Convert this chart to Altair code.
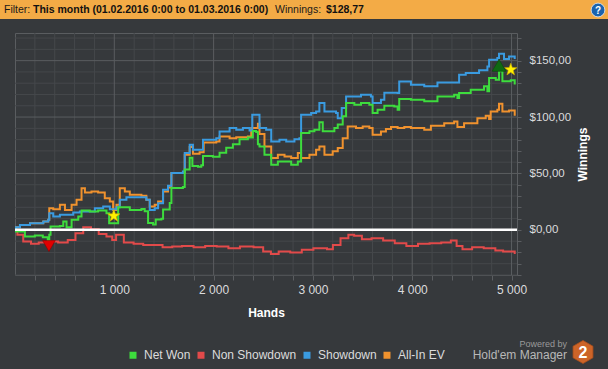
import altair as alt
import pandas as pd

FONT = "Liberation Sans"
BG = "#36393c"
MINOR = "#45484b"
MAJOR = "#5a5d60"
HEADER = "#f3ab46"

SERIES = ["Net Won", "Non Showdown", "Showdown", "All-In EV"]
COLORS = ["#3ddc3d", "#e24a4a", "#3a9be0", "#f0922e"]

net_hands = [0, 10, 100, 200, 280, 330, 345, 358, 452, 486, 519, 570, 637, 670, 754, 837, 921, 948,
             1039, 1156, 1273, 1306, 1340, 1390, 1417, 1474, 1491, 1558, 1575, 1691, 1709, 1759, 1786,
             1843, 1876, 1893, 1993, 2060, 2127, 2194, 2261, 2345, 2395, 2429, 2446, 2462, 2512, 2580,
             2647, 2714, 2781, 2848, 2881, 2965, 3015, 3065, 3099, 3216, 3250, 3300, 3334, 3417, 3484,
             3568, 3601, 3651, 3719, 3819, 3853, 3869, 3987, 4121, 4254, 4422, 4455, 4472, 4589, 4723,
             4757, 4774, 4841, 4874, 4908, 4992, 5032]
net_vals = [0, -1.5, -5.9, -5.0, -6.5, -9.0, -4.4, 2.9, 3.5, 7.4, 2.4, 8.9, 11.8, 17.2, 16.3, 17.2, 14.8, 5.9,
            20.0, 17.7, 18.6, 16.6, 6.2, 4.7, 9.2, 9.8, 18.0, 23.9, 37.2, 38.1, 53.6, 64.0, 56.6,
            56.0, 57.2, 65.5, 64.9, 68.4, 72.9, 75.8, 80.3, 81.8, 87.7, 86.8, 75.8, 74.0, 66.6, 57.7,
            60.7, 60.7, 57.7, 60.7, 85.9, 87.4, 88.7, 95.3, 87.4, 90.3, 93.3, 100.6, 112.4, 111.0, 112.4,
            111.0, 103.5, 106.5, 110.0, 109.4, 106.5, 116.0, 115.3, 113.9, 118.3, 119.8, 116.8, 121.3, 124.2, 127.2,
            122.8, 134.6, 133.1, 140.5, 131.7, 132.6, 128.8]

nsd_hands = [0, 24, 83, 161, 239, 336, 434, 531, 609, 687, 765, 843, 921, 979, 1018, 1096, 1194, 1291,
             1389, 1486, 1583, 1681, 1798, 1915, 2031, 2149, 2265, 2402, 2499, 2577, 2655, 2772, 2888,
             3005, 3142, 3201, 3278, 3357, 3415, 3493, 3590, 3707, 3824, 3941, 4058, 4175, 4292, 4389,
             4447, 4506, 4603, 4720, 4837, 4915, 5032]
nsd_vals = [0, -4.4, -10.4, -12.4, -11.2, -10.4, -11.2, -8.9, -3.0, 2.4, 0.6, -3.6, -5.9, -8.9, -4.4, -11.2, -12.4, -13.3,
            -13.3, -15.4, -14.8, -14.2, -15.4, -14.2, -14.8, -16.3, -14.8, -15.4, -19.2, -21.3, -19.2, -20.1, -17.7,
            -16.3, -17.1, -13.3, -7.4, -4.4, -5.3, -8.3, -7.4, -9.5, -11.8, -14.2, -12.4, -11.8, -11.2, -9.5,
            -14.2, -17.1, -15.4, -16.3, -18.3, -19.2, -21.3]

sd_hands = [0, 10, 50, 151, 285, 335, 345, 385, 452, 586, 653, 804, 888, 955, 1022, 1055, 1122, 1323,
            1357, 1407, 1441, 1491, 1541, 1575, 1691, 1709, 1759, 1792, 1893, 2027, 2060, 2161, 2228,
            2295, 2362, 2389, 2446, 2462, 2529, 2580, 2663, 2731, 2814, 2864, 2881, 2982, 3032, 3065,
            3116, 3233, 3250, 3290, 3334, 3484, 3584, 3601, 3685, 3719, 3853, 3869, 3987, 4121, 4254,
            4472, 4539, 4673, 4757, 4774, 4857, 4874, 4924, 4975, 5032]
sd_vals = [0, 2.4, 4.4, 5.9, 7.4, 8.9, 14.8, 11.8, 13.3, 15.4, 16.3, 19.2, 20.7, 18.3, 20.0, 26.6, 29.0, 26.6,
           17.7, 19.2, 23.7, 35.5, 39.0, 50.3, 51.8, 68.1, 75.4, 71.0, 79.9, 81.3, 87.2, 90.2, 88.7,
           90.2, 88.1, 102.1, 102.1, 90.3, 88.7, 78.3, 79.8, 78.3, 80.4, 81.3, 102.0, 103.5, 105.0, 112.4,
           105.0, 103.5, 99.0, 108.0, 118.3, 119.8, 118.3, 112.4, 115.3, 121.5, 121.3, 131.6, 128.7, 127.2, 130.7,
           137.5, 139.0, 141.4, 144.9, 150.8, 152.3, 156.2, 151.4, 153.7, 151.4]

ev_hands = [0, 10, 50, 151, 285, 335, 345, 385, 452, 503, 570, 620, 670, 704, 770, 837, 904, 955, 988,
            1022, 1055, 1106, 1156, 1273, 1323, 1357, 1407, 1441, 1491, 1541, 1575, 1691, 1709, 1759,
            1792, 1859, 1900, 2027, 2060, 2161, 2228, 2345, 2379, 2446, 2462, 2512, 2580, 2647, 2714,
            2781, 2848, 2881, 2965, 3032, 3065, 3116, 3199, 3250, 3300, 3350, 3434, 3501, 3568, 3601,
            3685, 3735, 3786, 3853, 3920, 3987, 4121, 4188, 4322, 4422, 4455, 4522, 4656, 4740, 4774,
            4790, 4857, 4874, 4908, 4975, 5032]
ev_vals = [0, 2.4, 4.4, 5.9, 7.4, 8.9, 19.2, 18.3, 22.2, 17.7, 22.2, 26.6, 37.0, 33.1, 34.0, 33.1, 28.1, 25.1, 17.7,
           22.2, 37.0, 34.0, 31.1, 30.2, 26.6, 20.7, 22.2, 25.1, 34.0, 37.5, 50.3, 50.9, 66.6, 73.4,
           67.5, 68.7, 77.5, 78.4, 82.8, 81.3, 82.2, 82.8, 90.2, 94.0, 85.0, 74.0, 63.6, 66.6, 65.1,
           63.6, 68.1, 63.6, 66.6, 71.0, 74.0, 66.6, 69.6, 72.5, 81.3, 91.7, 90.2, 91.7, 90.2, 84.3,
           87.2, 89.5, 91.1, 90.2, 91.1, 90.2, 88.7, 92.3, 94.6, 96.1, 91.1, 94.6, 99.0, 101.2, 98.2,
           105.0, 106.5, 111.9, 105.0, 105.9, 101.2]

star_hands = [995, 4992]
star_vals = [12.4, 142.0]
max_hand, max_val = [4874], [140.5]
min_hand, min_val = [342], [-9.0]

x_ticks = list(range(200, 5001, 200))
y_ticks = list(range(-40, 171, 10))
x_major = [v for v in x_ticks if v % 1000 == 0]
x_minor = [v for v in x_ticks if v % 1000 != 0]
y_major = [v for v in y_ticks if v % 50 == 0]
y_minor = [v for v in y_ticks if v % 50 != 0]

STAR_PATH = ("M0,-1L0.24,-0.33L0.951,-0.309L0.39,0.127L0.588,0.809L0,0.41L-0.588,0.809"
             "L-0.39,0.127L-0.951,-0.309L-0.24,-0.33Z")
HEX_PATH = "M0,-1L0.866,-0.5L0.866,0.5L0,1L-0.866,0.5L-0.866,-0.5Z"

rows = []
for name, hs, vs in [("Net Won", net_hands, net_vals), ("Non Showdown", nsd_hands, nsd_vals),
                     ("Showdown", sd_hands, sd_vals), ("All-In EV", ev_hands, ev_vals)]:
    for h, v in zip(hs, vs):
        rows.append({"series": name, "hand": h, "value": v})
df = pd.DataFrame(rows)

xscale = alt.Scale(domain=[0, 5055], nice=False, zero=False)
yscale = alt.Scale(domain=[-40, 174.5], nice=False, zero=False)

xaxis = alt.Axis(
    values=x_ticks,
    labelExpr="datum.value % 1000 == 0 ? replace(format(datum.value, ','), ',', ' ') : ''",
    grid=False, tickColor=MAJOR, tickSize=5, domain=False, labelOverlap=False, labelFlush=False,
    labelFont=FONT, labelFontSize=12, labelColor="#dcdcdc", labelPadding=4,
    titleFont=FONT, titleFontSize=12, titleFontWeight="bold", titleColor="#ffffff", titlePadding=12,
)
yaxis = alt.Axis(
    orient="right", values=y_ticks,
    labelExpr="(datum.value % 50 == 0 && datum.value >= 0) ? '$' + replace(format(datum.value, '.2f'), '.', ',') : ''",
    grid=False, tickColor=MAJOR, tickSize=4, domain=False, labelOverlap=False, labelFlush=False,
    labelFont=FONT, labelFontSize=11.5, labelColor="#dcdcdc", labelPadding=8,
    titleFont=FONT, titleFontSize=12, titleFontWeight="bold", titleColor="#ffffff", titlePadding=19,
    titleAngle=270,
)

color = alt.Color(
    "series:N",
    scale=alt.Scale(domain=SERIES, range=COLORS),
    legend=alt.Legend(orient="none", legendX=112, legendY=316, direction="horizontal", title=None,
                      symbolType="square", symbolSize=9, symbolStrokeWidth=4,
                      labelFont=FONT, labelFontSize=12, labelColor="#dcdcdc",
                      columnPadding=0, labelOffset=5, padding=0),
)

X = lambda: alt.X("hand:Q", scale=xscale, axis=xaxis, title="Hands")
Y = lambda: alt.Y("value:Q", scale=yscale, axis=yaxis, title="Winnings")

def vrules(vals, col):
    return alt.Chart(pd.DataFrame({"hand": vals})).mark_rule(color=col, strokeWidth=1).encode(x=X())

def hrules(vals, col):
    return alt.Chart(pd.DataFrame({"value": vals})).mark_rule(color=col, strokeWidth=1).encode(y=Y())

def series_layer(name):
    return alt.Chart(df[df.series == name]).mark_line(interpolate="step-after", strokeWidth=2).encode(
        x=X(), y=Y(), color=color)

zero = alt.Chart(pd.DataFrame({"value": [0]})).mark_rule(color="#ffffff", strokeWidth=2.5).encode(y=Y())

stars = alt.Chart(pd.DataFrame({"hand": star_hands, "value": star_vals})).mark_point(
    shape=STAR_PATH, filled=True, fill="#fff000", stroke="#c8a800", strokeWidth=0.6, size=170, opacity=1
).encode(x=X(), y=Y())

tri_max = alt.Chart(pd.DataFrame({"hand": max_hand, "value": max_val})).mark_point(
    shape="triangle-up", filled=True, fill="#0f6a12", stroke="#0a4a0c", strokeWidth=0.6, size=190, opacity=1, yOffset=-6
).encode(x=X(), y=Y())

tri_min = alt.Chart(pd.DataFrame({"hand": min_hand, "value": min_val})).mark_point(
    shape="triangle-down", filled=True, fill="#e00000", stroke="#8a0000", strokeWidth=0.6, size=160, opacity=1, yOffset=6
).encode(x=X(), y=Y())

one = pd.DataFrame({"a": [0]})
OX, OY = 15, 33

def txt(s, x, y, size, col, weight="normal", align="left", baseline="middle"):
    return alt.Chart(one).mark_text(text=s, font=FONT, fontSize=size, fontWeight=weight, color=col,
                                    align=align, baseline=baseline).encode(
        x=alt.value(x - OX), y=alt.value(y - OY))

header = alt.Chart(one).mark_rect(color=HEADER).encode(
    x=alt.value(-OX), x2=alt.value(608 - OX), y=alt.value(-OY), y2=alt.value(19 - OY))

help_circle = alt.Chart(one).mark_point(shape="circle", filled=True, fill="#1b63ad", stroke="#e8eef5",
                                        strokeWidth=0.8, size=190, opacity=1).encode(
    x=alt.value(598 - OX), y=alt.value(10 - OY))

hexagon = alt.Chart(one).mark_point(
    shape=HEX_PATH, filled=True, fill="#cc6428", stroke="#a84e1c", strokeWidth=0.8, size=529, opacity=1
).encode(x=alt.value(583 - OX), y=alt.value(352 - OY))

layers = [
    vrules(x_minor, MINOR), hrules(y_minor, MINOR),
    vrules(x_major, MAJOR), hrules(y_major, MAJOR),
    series_layer("Non Showdown"),
    series_layer("All-In EV"),
    series_layer("Showdown"),
    series_layer("Net Won"),
    zero,
    stars, tri_max, tri_min,
    header,
    txt("Filter:", 4, 10, 10.5, "#1a1a1a"),
    txt("This month (01.02.2016 0:00 to 01.03.2016 0:00)", 33, 10, 10.5, "#111111", "bold"),
    txt("Winnings:", 275, 10, 10.5, "#1a1a1a"),
    txt("$128,77", 326, 10, 10.5, "#111111", "bold"),
    help_circle,
    txt("?", 598, 10.5, 10, "#ffffff", "bold", "center"),
    txt("Powered by", 567, 344, 9, "#9a9a9a", "normal", "right"),
    txt("Hold'em Manager", 567, 355, 12, "#b8b8b8", "normal", "right"),
    hexagon,
    txt("2", 583, 353, 16, "#ffffff", "bold", "center"),
]

chart = alt.layer(*layers).properties(
    width=502, height=242,
    padding={"left": 15, "top": 33, "right": 91, "bottom": 94},
    autosize=alt.AutoSizeParams(type="none"),
).configure(background=BG).configure_view(stroke=MAJOR, strokeWidth=1)

chart.save("out.html", embed_options={"renderer": "svg", "actions": False})
